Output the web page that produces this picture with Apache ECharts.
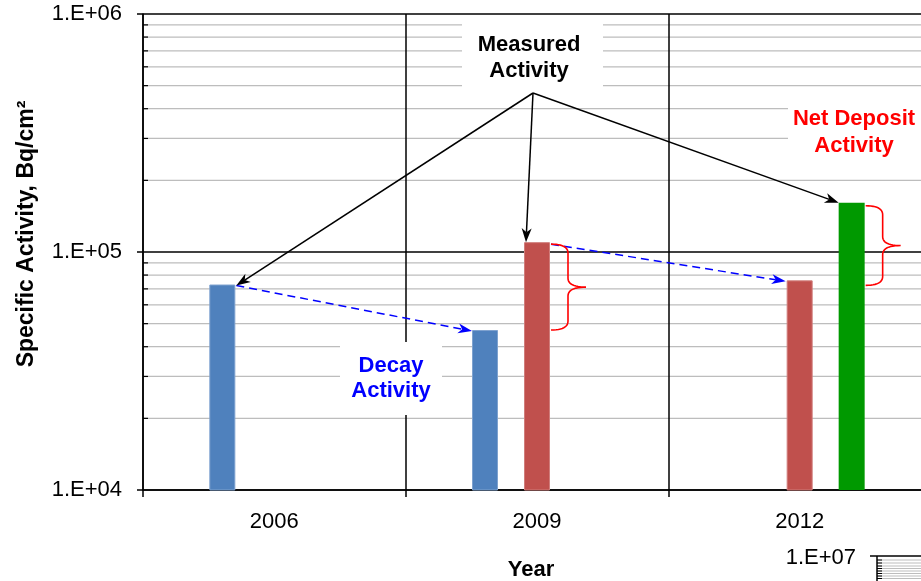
<!DOCTYPE html>
<html>
<head>
<meta charset="utf-8">
<script src="https://cdn.jsdelivr.net/npm/echarts@6/dist/echarts.min.js"></script>
<style>
html,body{margin:0;padding:0;background:#fff;overflow:hidden;width:921px;height:581px;}
#main{width:931px;height:581px;}
</style>
</head>
<body>
<div id="main"></div>
<script>
// ---- data ----
const categories = ['2006', '2009', '2012'];
const decayBlue = [73000, 47000, null];      // left bar in each group
const measuredRed = [null, 110000, 76000];   // middle bar
const netGreen = [null, null, 161000];       // right bar
const yTickLabels = ['1.E+04', '1.E+05', '1.E+06'];
const minorGridValues = [20000, 30000, 40000, 50000, 60000, 70000, 80000, 90000,
                         200000, 300000, 400000, 500000, 600000, 700000, 800000, 900000];
const yTitle = 'Specific Activity, Bq/cm\u00B2';
const xTitle = 'Year';

const FONT = '"Liberation Sans", Arial, sans-serif';
const BLUE = '#4F81BD', RED = '#C0504D', GREEN = '#009900';

const chart = echarts.init(document.getElementById('main'), null, {renderer: 'canvas', width: 931, height: 581});

const option = {
  animation: false,
  backgroundColor: '#ffffff',
  grid: {left: 143, top: 14, bottom: 91, right: 0, containLabel: false},
  xAxis: {
    type: 'category',
    data: categories,
    boundaryGap: true,
    axisLine: {show: true, lineStyle: {color: '#000', width: 1.5}},
    axisTick: {show: true, length: 7, interval: 0, lineStyle: {color: '#000', width: 1.5}},
    axisLabel: {color: '#000', fontSize: 22, fontFamily: FONT, margin: 21, interval: 0},
    splitLine: {show: true, interval: 0, lineStyle: {color: '#000', width: 1.5}}
  },
  yAxis: {
    type: 'log',
    logBase: 10,
    min: 10000,
    max: 1000000,
    axisLine: {show: true, lineStyle: {color: '#000', width: 1.5}},
    axisTick: {show: true, length: 6, lineStyle: {color: '#000', width: 1.5}},
    axisLabel: {
      color: '#000', fontSize: 22, fontFamily: FONT, margin: 21, padding: [6, 0, 0, 0],
      formatter: function (v) { return yTickLabels[Math.round(Math.log10(v)) - 4]; }
    },
    splitLine: {show: true, lineStyle: {color: '#000', width: 1.5}}
  },
  series: [
    {
      type: 'custom',
      z: -1,
      silent: true,
      clip: true,
      data: minorGridValues.map(function (v) { return [0, v]; }),
      encode: {x: 0, y: 1},
      renderItem: function (params, api) {
        const cs = params.coordSys;
        const y = api.coord([0, api.value(1)])[1];
        return {
          type: 'group',
          children: [
            {type: 'line', shape: {x1: cs.x, y1: y, x2: cs.x + cs.width, y2: y},
             style: {stroke: '#bdbdbd', lineWidth: 1.2}},
            {type: 'line', shape: {x1: cs.x, y1: y, x2: cs.x + 5, y2: y},
             style: {stroke: '#000', lineWidth: 1.2}}
          ]
        };
      }
    },
    {type: 'bar', name: 'Decay', data: decayBlue, barWidth: 26, barGap: '100%',
     itemStyle: {color: BLUE, borderColor: '#7EA2CF', borderWidth: 1}},
    {type: 'bar', name: 'Measured', data: measuredRed, barWidth: 26, barGap: '100%',
     itemStyle: {color: RED, borderColor: '#D07D7B', borderWidth: 1}},
    {type: 'bar', name: 'Net', data: netGreen, barWidth: 26, barGap: '100%',
     itemStyle: {color: GREEN}}
  ]
};
chart.setOption(option);

// ---- annotation geometry from the bar layouts ----
function barRect(seriesIndex, dataIndex) {
  try {
    const lay = chart.getModel().getSeriesByIndex(seriesIndex).getData().getItemLayout(dataIndex);
    if (lay && isFinite(lay.x) && isFinite(lay.height)) {
      return {
        left: Math.min(lay.x, lay.x + lay.width),
        right: Math.max(lay.x, lay.x + lay.width),
        top: Math.min(lay.y, lay.y + lay.height)
      };
    }
  } catch (e) {}
  const offs = {1: -52, 2: 0, 3: 52};
  const vals = {1: decayBlue, 2: measuredRed, 3: netGreen};
  const p = chart.convertToPixel({xAxisIndex: 0, yAxisIndex: 0}, [dataIndex, vals[seriesIndex][dataIndex]]);
  const cx = p[0] + offs[seriesIndex];
  return {left: cx - 13, right: cx + 13, top: p[1]};
}

function arrow(x1, y1, x2, y2, color, dashed) {
  const dx = x2 - x1, dy = y2 - y1, L = Math.hypot(dx, dy);
  const ux = dx / L, uy = dy / L, nx = -uy, ny = ux;
  const len = 14, wid = 5, notch = 4;
  const bx = x2 - ux * len, by = y2 - uy * len;
  const mx = x2 - ux * (len - notch), my = y2 - uy * (len - notch);
  return [
    {type: 'line', z: 120, silent: true,
     shape: {x1: x1, y1: y1, x2: mx, y2: my},
     style: {stroke: color, lineWidth: 1.5, lineDash: dashed ? [8, 5] : null}},
    {type: 'polygon', z: 121, silent: true,
     shape: {points: [[x2, y2], [bx + nx * wid, by + ny * wid], [mx, my], [bx - nx * wid, by - ny * wid]]},
     style: {fill: color}}
  ];
}

function quad(pts, p0, c, p1) {
  for (let i = 1; i <= 12; i++) {
    const t = i / 12, a = (1 - t) * (1 - t), b = 2 * (1 - t) * t, d = t * t;
    pts.push([a * p0[0] + b * c[0] + d * p1[0], a * p0[1] + b * c[1] + d * p1[1]]);
  }
}
function brace(x0, yT, yB) {
  const xv = x0 + 17, xp = x0 + 35, ym = (yT + yB) / 2, r = 9;
  const pts = [[x0, yT]];
  quad(pts, [x0, yT], [xv, yT], [xv, yT + r]);
  pts.push([xv, ym - r]);
  quad(pts, [xv, ym - r], [xv, ym], [xp, ym]);
  quad(pts, [xp, ym], [xv, ym], [xv, ym + r]);
  pts.push([xv, yB - r]);
  quad(pts, [xv, yB - r], [xv, yB], [x0, yB]);
  return {type: 'polyline', z: 120, silent: true, shape: {points: pts},
          style: {stroke: '#FF0000', fill: null, lineWidth: 1.6}};
}

function label(text, x, y, color, lh) {
  return {type: 'text', z: 110, silent: true,
    style: {text: text, x: x, y: y, fill: color, align: 'center', verticalAlign: 'middle',
            fontSize: 22, fontWeight: 'bold', fontFamily: FONT, lineHeight: lh}};
}
function whiteBox(x, y, w, h) {
  return {type: 'rect', z: 100, silent: true, shape: {x: x, y: y, width: w, height: h},
          style: {fill: '#ffffff'}};
}

const b06 = barRect(1, 0);   // 2006 blue
const b09 = barRect(1, 1);   // 2009 blue
const r09 = barRect(2, 1);   // 2009 red
const r12 = barRect(2, 2);   // 2012 red
const g12 = barRect(3, 2);   // 2012 green

const origin = [533, 93];
let els = [];
els.push(whiteBox(462, 20, 141, 72));
els.push(label('Measured\nActivity', 529, 58, '#000000', 26));
els.push(whiteBox(788, 96, 140, 70));
els.push(label('Net Deposit\nActivity', 854, 132.5, '#FF0000', 27));
els.push(whiteBox(340, 342, 102, 73));
els.push(label('Decay\nActivity', 391, 378.5, '#0000FF', 25));
els = els.concat(arrow(origin[0], origin[1], b06.right + 1, b06.top + 1, '#000', false));
els = els.concat(arrow(origin[0], origin[1], r09.left + 2, r09.top, '#000', false));
els = els.concat(arrow(origin[0], origin[1], g12.left, g12.top, '#000', false));
els = els.concat(arrow(b06.right + 1, b06.top + 1, b09.left, b09.top + 1, '#0000FF', true));
els = els.concat(arrow(r09.right + 1, r09.top + 2, r12.left - 1, r12.top + 1, '#0000FF', true));
els.push(brace(r09.right + 1, r09.top + 2, b09.top));
els.push(brace(g12.right + 1, g12.top + 3, r12.top + 5));
els.push({type: 'text', z: 110, silent: true, rotation: Math.PI / 2, x: 27, y: 234,
  style: {text: yTitle, x: 0, y: 0, fill: '#000', align: 'center', verticalAlign: 'middle',
          fontSize: 23, fontWeight: 'bold', fontFamily: FONT}});
els.push({type: 'text', z: 110, silent: true,
  style: {text: xTitle, x: 531, y: 570, fill: '#000', align: 'center', verticalAlign: 'middle',
          fontSize: 22, fontWeight: 'bold', fontFamily: FONT}});
els.push({type: 'text', z: 110, silent: true,
  style: {text: '1.E+07', x: 856, y: 558, fill: '#000', align: 'right', verticalAlign: 'middle',
          fontSize: 22, fontFamily: FONT}});
els.push({type: 'line', z: 110, silent: true, shape: {x1: 870, y1: 556, x2: 931, y2: 556},
          style: {stroke: '#000', lineWidth: 1.5}});
els.push({type: 'line', z: 110, silent: true, shape: {x1: 877, y1: 556, x2: 877, y2: 581},
          style: {stroke: '#000', lineWidth: 1.5}});
[560, 563, 566, 568.5, 571, 573.5, 576, 578.5].forEach(function (yy) {
  els.push({type: 'line', z: 109, silent: true, shape: {x1: 877, y1: yy, x2: 931, y2: yy},
            style: {stroke: '#bdbdbd', lineWidth: 1}});
  els.push({type: 'line', z: 110, silent: true, shape: {x1: 877, y1: yy, x2: 882, y2: yy},
            style: {stroke: '#000', lineWidth: 1}});
});

chart.setOption({graphic: {elements: els}});
</script>
</body>
</html>
